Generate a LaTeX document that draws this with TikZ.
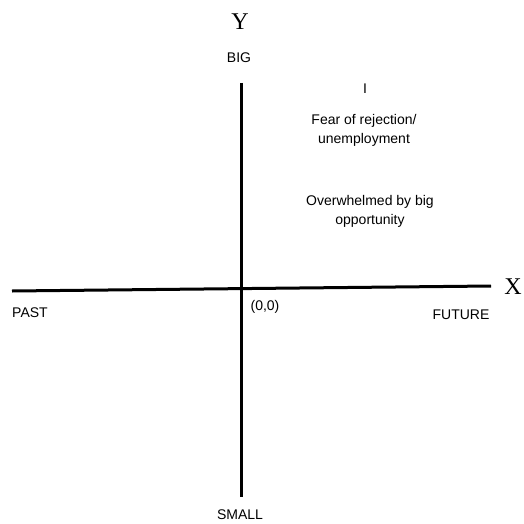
\documentclass[tikz,border=0pt]{standalone}
\usepackage{fontspec}
\setmainfont{Liberation Sans}
\newfontfamily\serifaxis{Liberation Serif}
\begin{document}
\begin{tikzpicture}[x=1pt,y=-1pt,
  axis/.style={line width=3pt},
  lbl/.style={font=\fontsize{14}{19}\selectfont, inner sep=0pt, align=center},
  axname/.style={font=\serifaxis\fontsize{24}{26}\selectfont, inner sep=0pt}]
\useasboundingbox (0,0) rectangle (524,524);
\coordinate (xl) at (12,291);
\coordinate (xr) at (491,286);
\coordinate (yt) at (241,83);
\coordinate (yb) at (241,497);
\draw[axis] (xl) -- (xr);
\draw[axis] (yt) -- (yb);
\node[axname] (ylab) at (240,22) {Y};
\node[axname] (xlab) at (513,287) {X};
\node[lbl] (big) at (239,58) {BIG};
\node[lbl] (small) at (240,515) {SMALL};
\node[lbl] (past) at (30,313) {PAST};
\node[lbl] (future) at (461,315) {FUTURE};
\node[lbl] (origin) at (265,307) {(0,0)};
\node[lbl] (one) at (365,89) {I};
\node[lbl] (fear) at (364,130) {Fear of rejection/\\unemployment};
\node[lbl] (over) at (370,211) {Overwhelmed by big\\opportunity};
\end{tikzpicture}
\end{document}
